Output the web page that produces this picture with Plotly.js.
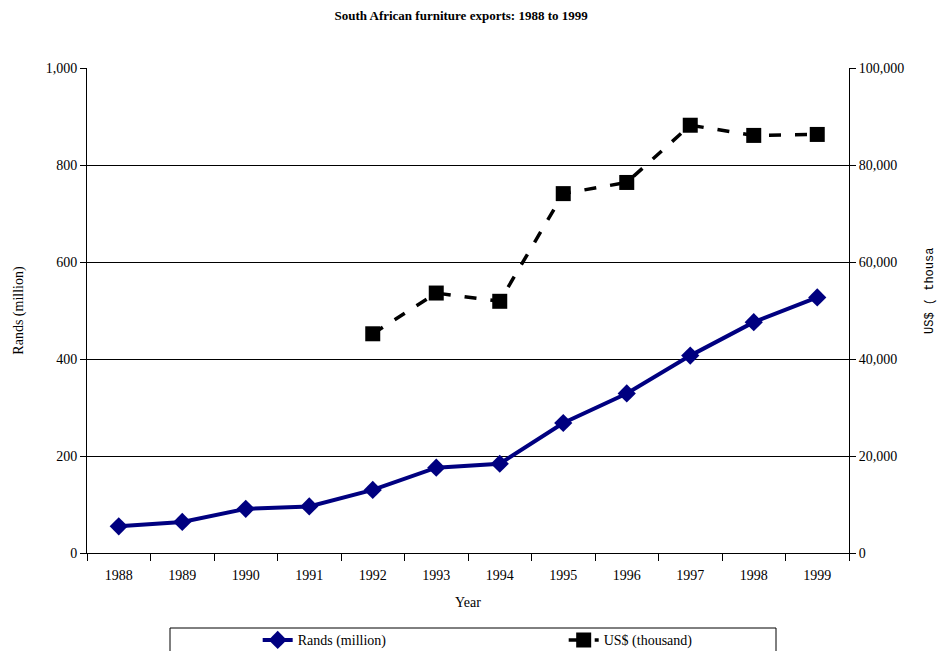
<!DOCTYPE html>
<html>
<head>
<meta charset="utf-8">
<script src="https://cdn.plot.ly/plotly-3.0.1.min.js"></script>
<style>html,body{margin:0;padding:0;background:#fff}#chart{width:941px;height:651px}</style>
</head>
<body>
<div id="chart"></div>
<script>
const years = ["1988","1989","1990","1991","1992","1993","1994","1995","1996","1997","1998","1999"];
const randsMillion = [55, 64, 91, 96, 130, 176, 184, 268, 329, 407, 476, 527];
const usdYears = ["1992","1993","1994","1995","1996","1997","1998","1999"];
const usdThousand = [45200, 53600, 51900, 74100, 76400, 88200, 86100, 86300];

const serif = "'Liberation Serif', 'Times New Roman', Times, serif";

const traces = [
  {
    x: years, y: randsMillion, name: "Rands (million)", type: "scatter", mode: "lines+markers",
    line: {color: "#000080", width: 4},
    marker: {symbol: "diamond", size: 14, color: "#000080"},
    yaxis: "y"
  },
  {
    x: usdYears, y: usdThousand, name: "US$ (thousand)", type: "scatter", mode: "lines+markers",
    line: {color: "#000000", width: 3.5, dash: "12px,14px"},
    marker: {symbol: "square", size: 15, color: "#000000"},
    yaxis: "y2"
  }
];

const layout = {
  width: 941, height: 651,
  paper_bgcolor: "#fff", plot_bgcolor: "#fff",
  margin: {l: 87, r: 92, t: 68, b: 98, pad: 0, autoexpand: false},
  font: {family: serif, size: 13, color: "#000"},
  title: {text: "<b>South African furniture exports: 1988 to 1999</b>", font: {family: serif, size: 13, color: "#000"}, x: 0.49, xanchor: "center", y: 0.984, yanchor: "top"},
  showlegend: true,
  legend: {orientation: "h", x: 0.224, xanchor: "left", y: -0.147, yanchor: "top", entrywidth: 261, entrywidthmode: "pixels", font: {family: serif, size: 14, color: "#000"}, bgcolor: "rgba(0,0,0,0)", borderwidth: 0, traceorder: "normal"},
  xaxis: {
    type: "category", categoryorder: "array", categoryarray: years,
    range: [-0.5, 11.5],
    showline: true, linecolor: "#000", linewidth: 1, mirror: false,
    ticks: "outside", tickson: "boundaries", ticklen: 7, tickcolor: "#000",
    ticklabelstandoff: 9,
    showgrid: false, zeroline: false,
    tickfont: {family: serif, size: 14, color: "#000"},
    title: {text: "Year", font: {family: serif, size: 14, color: "#000"}, standoff: 15}
  },
  yaxis: {
    range: [0, 1000], dtick: 200, tickformat: ",d",
    showline: true, linecolor: "#000", linewidth: 1,
    ticks: "outside", ticklen: 6, tickcolor: "#000",
    showgrid: true, gridcolor: "#000", gridwidth: 1, zeroline: false,
    tickfont: {family: serif, size: 14, color: "#000"},
    title: {text: "Rands (million)", font: {family: serif, size: 14, color: "#000"}, standoff: 18}
  },
  yaxis2: {
    overlaying: "y", side: "right", range: [0, 100000], dtick: 20000, tickformat: ",d",
    showline: true, linecolor: "#000", linewidth: 1,
    ticks: "outside", ticklen: 6, tickcolor: "#000",
    showgrid: false, zeroline: false,
    tickfont: {family: serif, size: 14, color: "#000"}
  },
  shapes: [
    {type: "rect", xref: "paper", yref: "paper", x0: (170-87)/762, x1: (776-87)/762, y0: (553-660)/485, y1: (553-628)/485, line: {color: "#000", width: 1}, fillcolor: "rgba(0,0,0,0)"}
  ],
  annotations: [
    {text: "US$ ( thousa", xref: "paper", yref: "paper", x: (930-87)/762, y: (553-291)/485, xanchor: "center", yanchor: "middle", textangle: -90, showarrow: false, font: {family: "'Liberation Mono', 'Courier New', monospace", size: 12, color: "#000"}}
  ]
};

Plotly.newPlot("chart", traces, layout, {displayModeBar: false, responsive: false});
</script>
</body>
</html>
